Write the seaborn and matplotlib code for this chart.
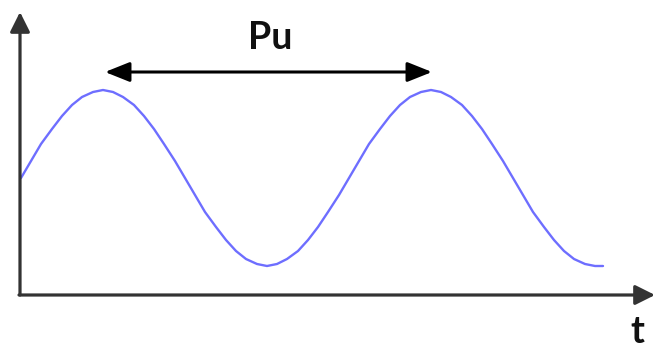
import numpy as np
import pandas as pd
import matplotlib
matplotlib.use("Agg")
import matplotlib.pyplot as plt
import seaborn as sns

# curve samples (t = px from the vertical axis, level = px above the time axis)
t_vals = [1, 11, 21, 32, 42, 52, 62, 73, 83, 93, 103, 114, 124, 134, 144, 155,
          165, 175, 185, 196, 206, 216, 226, 237, 247, 257, 267, 278, 288, 298,
          308, 319, 329, 339, 349, 360, 370, 380, 390, 401, 411, 421, 431, 442,
          452, 462, 472, 483, 493, 503, 513, 524, 534, 544, 554, 565, 575, 583]
level = [117, 134, 151, 166, 179, 190, 198, 203, 205, 203, 198, 190, 179, 166,
         151, 134, 117, 100, 83, 68, 55, 44, 36, 31, 29, 31, 36, 44, 55, 68,
         83, 100, 117, 134, 151, 166, 179, 190, 198, 203, 205, 203, 198, 190,
         179, 166, 151, 134, 117, 100, 83, 68, 55, 44, 36, 31, 29, 29]

period_label = "Pu"
time_label = "t"

df = pd.DataFrame({"t": t_vals, "y": level})

sns.set_style("white")
plt.rcParams["font.family"] = ["Lato", "DejaVu Sans"]

fig = plt.figure(figsize=(6.56, 3.49), dpi=100)
ax = fig.add_axes([0, 0, 1, 1])
ax.set_xlim(-20, 636)
ax.set_ylim(-54, 295)
ax.axis("off")

sns.lineplot(data=df, x="t", y="y", sort=False, color="#6e6eff", lw=1.7, ax=ax)

axis_style = dict(arrowstyle="-|>,head_length=0.6,head_width=0.3", lw=2.3,
                  color="#333333", shrinkA=0, shrinkB=0, mutation_scale=20)
# vertical axis
ax.annotate("", xy=(0, 283), xytext=(0, 0), arrowprops=axis_style)
# time axis
ax.annotate("", xy=(635, 0), xytext=(-1, 0), arrowprops=axis_style)

# period arrow, peak to peak
ax.annotate("", xy=(412, 223), xytext=(85, 223),
            arrowprops=dict(arrowstyle="<|-|>,head_length=0.75,head_width=0.3",
                            lw=2.2, color="black", shrinkA=0, shrinkB=0,
                            mutation_scale=20))

ax.text(250, 246, period_label, fontsize=27, fontweight="bold",
        ha="center", va="baseline", color="#111111")
ax.text(617, -48, time_label, fontsize=27, fontweight="bold",
        ha="center", va="baseline", color="#111111")

fig.savefig("out.png", dpi=100)
plt.close(fig)
